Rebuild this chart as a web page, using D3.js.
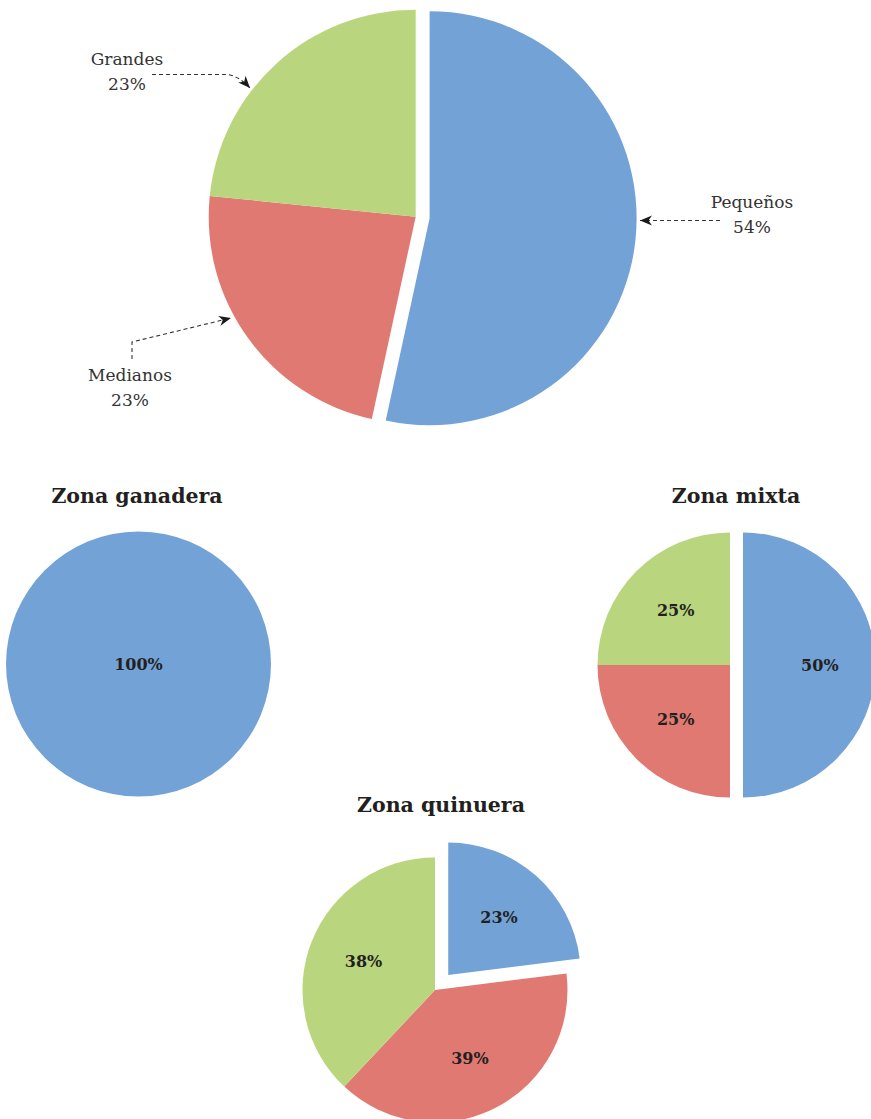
<!DOCTYPE html>
<html>
<head>
<meta charset="utf-8">
<script src="https://cdn.jsdelivr.net/npm/d3@7"></script>
<style>
  body { margin: 0; background: #fff; }
  svg { display: block; }
</style>
</head>
<body>
<div id="container"></div>
<script>
// tamaños de productores
const categories = ["Pequeños", "Medianos", "Grandes"];
const colors = ["#73a2d6", "#e07972", "#b9d67e"];

// gráfico total (etiquetas tal como aparecen)
const totalValues = [53.4, 23.2, 23.4];
const totalLabels = ["54%", "23%", "23%"];

// gráficos por zona
const zoneNames = ["Zona ganadera", "Zona mixta", "Zona quinuera"];
const ganaderaValues = [100, 0, 0];
const mixtaValues = [50, 25, 25];
const quinueraValues = [23, 39, 38];

const width = 871, height = 1119;

const svg = d3.select("#container").append("svg")
  .attr("width", width)
  .attr("height", height);

svg.append("rect").attr("width", width).attr("height", height).attr("fill", "#fff");

// punta de flecha para las etiquetas del gráfico grande
svg.append("defs").append("marker")
  .attr("id", "arrow")
  .attr("viewBox", "-1 -6 14 12")
  .attr("refX", 12)
  .attr("refY", 0)
  .attr("markerWidth", 14)
  .attr("markerHeight", 12)
  .attr("markerUnits", "userSpaceOnUse")
  .attr("orient", "auto")
  .append("path")
  .attr("d", "M0,-5L12,0L0,5L3.5,0Z")
  .attr("fill", "#1a1a1a");

const pie = d3.pie().sort(null).value(d => d);

function drawPie(values, cx, cy, r, explode, labels) {
  const g = svg.append("g").attr("transform", `translate(${cx},${cy})`);
  const arcs = pie(values);
  const total = d3.sum(values);
  const arc = d3.arc().innerRadius(0).outerRadius(r);
  const labelArc = d3.arc().innerRadius(r * 0.58).outerRadius(r * 0.58);

  const slice = g.selectAll("g.slice")
    .data(arcs.filter(d => d.value > 0))
    .join("g")
    .attr("class", "slice")
    .attr("transform", d => {
      // solo se separa la primera porción (Pequeños)
      if (d.index !== 0 || !explode || d.value === total) return null;
      const a = (d.startAngle + d.endAngle) / 2;
      return `translate(${Math.sin(a) * explode},${-Math.cos(a) * explode})`;
    });

  slice.append("path")
    .attr("d", arc)
    .attr("fill", d => colors[d.index]);

  if (labels) {
    slice.append("text")
      .attr("transform", d => d.value === total ? null : `translate(${labelArc.centroid(d)})`)
      .attr("text-anchor", "middle")
      .attr("dy", "0.35em")
      .attr("font-family", "'DejaVu Serif', serif")
      .attr("font-weight", "bold")
      .attr("font-size", 16)
      .attr("fill", "#231f20")
      .text(d => labels[d.index]);
  }
}

function pct(values) {
  return values.map(v => Math.round(v) + "%");
}

// ---- gráfico total
drawPie(totalValues, 415.7, 216.7, 207, 14, null);

const callout = svg.append("g")
  .attr("font-family", "'DejaVu Serif', serif")
  .attr("font-size", 17)
  .attr("fill", "#333")
  .attr("text-anchor", "middle");

// posiciones de las etiquetas externas y trazo de cada flecha
const calloutSpec = [
  { x: 752, y: 208, path: "M720,220.5H640" },
  { x: 130, y: 381, path: "M132,359V342L231,318" },
  { x: 127, y: 65, path: "M152,74.5H226Q238,75 250,88" }
];

calloutSpec.forEach((c, i) => {
  callout.append("text").attr("x", c.x).attr("y", c.y).text(categories[i]);
  callout.append("text").attr("x", c.x).attr("y", c.y + 25).text(totalLabels[i]);
  svg.append("path")
    .attr("d", c.path)
    .attr("fill", "none")
    .attr("stroke", "#333")
    .attr("stroke-width", 1.1)
    .attr("stroke-dasharray", "4,3")
    .attr("marker-end", "url(#arrow)");
});

// ---- gráficos por zona
const zones = [
  { values: ganaderaValues, cx: 138.5, cy: 664, explode: 0, tx: 137, ty: 503 },
  { values: mixtaValues, cx: 730, cy: 665, explode: 13, tx: 736, ty: 503 },
  { values: quinueraValues, cx: 435, cy: 990, explode: 20, tx: 441, ty: 812 }
];

zones.forEach((z, i) => {
  svg.append("text")
    .attr("x", z.tx)
    .attr("y", z.ty)
    .attr("text-anchor", "middle")
    .attr("font-family", "'DejaVu Serif', serif")
    .attr("font-weight", "bold")
    .attr("font-size", 20.5)
    .attr("fill", "#231f20")
    .text(zoneNames[i]);
  drawPie(z.values, z.cx, z.cy, 132.5, z.explode, pct(z.values));
});
</script>
</body>
</html>
